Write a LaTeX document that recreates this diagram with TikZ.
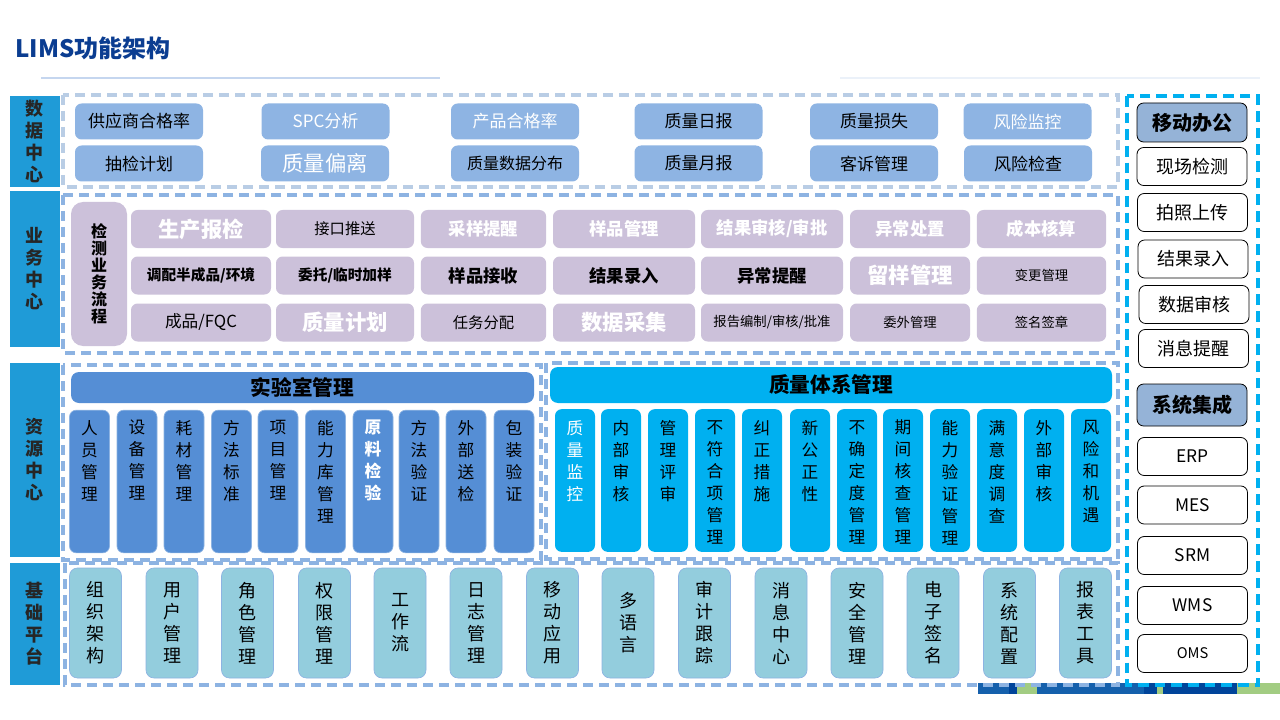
\documentclass[tikz,border=0pt]{standalone}
\usepackage{fontspec}
\setmainfont{Noto Sans CJK SC}
\usetikzlibrary{positioning}
\definecolor{titleblue}{HTML}{0B3D91}
\definecolor{titleline}{HTML}{C5D6EF}
\definecolor{sidefill}{HTML}{1F9BD7}
\definecolor{datafill}{HTML}{8EB4E3}
\definecolor{bizfill}{HTML}{CCC1DA}
\definecolor{labfill}{HTML}{558ED5}
\definecolor{qualfill}{HTML}{00B0F0}
\definecolor{basefill}{HTML}{93CDDD}
\definecolor{headfill}{HTML}{95B3D7}
\definecolor{dashblue}{HTML}{8DB3E2}
\definecolor{dashlight}{HTML}{B9CDE5}
\definecolor{dashcyan}{HTML}{00B0F0}
\definecolor{barblue}{HTML}{1560AC}
\definecolor{bardark}{HTML}{00449A}
\definecolor{bargreen}{HTML}{A2CC82}
\newcommand{\fs}[2]{\fontsize{#1}{#2}\selectfont}

\tikzset{
  sidelabel/.style={fill=sidefill, minimum width=37.5pt, inner sep=0pt, align=center, text=black!85, font=\bfseries\fs{13.5}{16.5}},
  dashframe/.style={draw=dashblue, line width=2.4pt, dash pattern=on 7.5pt off 4.5pt},
  databox/.style={fill=datafill, rounded corners=5pt, minimum width=96pt, minimum height=27pt, inner sep=0pt},
  bizbox/.style={fill=bizfill, rounded corners=5pt, minimum height=28.5pt, inner sep=0pt},
  colbox/.style={rounded corners=5pt, minimum width=30pt, minimum height=107pt, inner sep=0pt},
  coltext/.style={anchor=north, inner sep=0pt, align=center, font=\fs{12.5}{16.5}},
  basebox/.style={fill=basefill, draw=dashblue, line width=0.5pt, rounded corners=6pt, minimum width=39pt, minimum height=82.5pt, inner sep=0pt, align=center, font=\fs{13.5}{16.5}},
  sidecard/.style={draw=black, line width=0.6pt, fill=white, rounded corners=5pt, minimum width=82.5pt, minimum height=28.5pt, inner sep=0pt, font=\fs{13.5}{16}},
  sidehead/.style={sidecard, fill=headfill, font=\bfseries\fs{15}{17}},
  % text looks
  dk/.style={text=black, font=\fs{12.75}{15}},
  wh/.style={text=white, font=\fs{12.75}{15}},
  whbig/.style={text=white, font=\fs{16}{18}},
  dksm/.style={text=black, font=\fs{12}{14}},
  bwbig/.style={text=white, font=\bfseries\fs{16}{18}},
  bw/.style={text=white, font=\bfseries\fs{13}{15}},
  bkb/.style={text=black, font=\bfseries\fs{13}{15}},
  bkbs/.style={text=black, font=\bfseries\fs{11}{13}},
  bk/.style={text=black, font=\fs{11.5}{13}},
  bkm/.style={text=black, font=\fs{12.5}{14}},
  bks/.style={text=black, font=\fs{10}{12}},
  ct/.style={text=black},
  ctw/.style={text=white},
  ctwb/.style={text=white, font=\bfseries\fs{12.5}{16.5}}
}

\begin{document}
\begin{tikzpicture}[x=0.75pt, y=-0.75pt]
  \fill[white] (0,0) rectangle (1280,720);
  \useasboundingbox (0,0) rectangle (1280,720);

  % title
  \node[anchor=west, inner sep=0pt, text=titleblue, font=\bfseries\fs{18}{20}] (title) at (15,48.5) {LIMS功能架构};
  \draw[titleline, line width=1.2pt] (41,78) -- (440,78);
  \draw[titleline!35, line width=1.2pt] (840,78) -- (1260,78);

  % bar at the bottom right
  \fill[barblue] (978,683) rectangle (1009,694);
  \fill[bardark] (1009,683) rectangle (1017,694);
  \fill[bargreen] (1017,683) rectangle (1037,694);
  \fill[barblue] (1037,683) rectangle (1144,694);
  \fill[bardark] (1144,683) rectangle (1157,694);
  \fill[bargreen] (1157,683) rectangle (1163,694);
  \fill[bardark] (1163,683) rectangle (1237,694);
  \fill[bargreen] (1237,683) rectangle (1280,694);

  % dashed frames
  \draw[dashframe, draw=dashlight] (63,95) rectangle (1118,187);
  \draw[dashframe] (63,195) rectangle (1118,353);
  \draw[dashframe] (63,365) rectangle (541,560);
  \draw[dashframe] (546,363) rectangle (1118,559);
  \draw[dashframe] (65,563) rectangle (1118,685);
  \draw[dashframe, draw=dashcyan, line width=2.7pt, dash pattern=on 8pt off 4.5pt] (1127,96) rectangle (1258,685);

  % side labels
  \node[sidelabel, minimum height=68.25pt] (datac) at (35,141.5) {数\\据\\中\\心};
  \node[sidelabel, minimum height=117pt] (bizc) at (35,269) {业\\务\\中\\心};
  \node[sidelabel, minimum height=145.5pt] (resc) at (35,460) {资\\源\\中\\心};
  \node[sidelabel, minimum height=91.5pt] (basec) at (35,624) {基\\础\\平\\台};

  % data center
  \foreach \x/\y/\s/\t [count=\i] in {139/121.5/dk/供应商合格率, 325.5/121.5/wh/SPC分析, 515/121.5/wh/产品合格率,
      698.5/121.5/dk/质量日报, 874/121.5/dk/质量损失, 1027.5/121.5/wh/风险监控,
      139/163.5/dk/抽检计划, 325/163.5/whbig/质量偏离, 515/163.5/dksm/质量数据分布,
      698.5/163.5/dk/质量月报, 874/163.5/dk/客诉管理, 1028/163.5/dk/风险检查}
    \node[databox, \s] (d\i) at (\x,\y) {\t};

  % business center
  \node[bizbox, rounded corners=9pt, minimum width=42pt, minimum height=108pt, align=center, font=\bfseries\fs{12}{12.75}] (flow) at (99,274) {检\\测\\业\\务\\流\\程};
  \foreach \x/\w/\sa/\ta/\sb/\tb/\sc/\tc [count=\i] in {
      201/105/bwbig/生产报检/bkbs/{调配半成品/环境}/bkm/{成品/FQC},
      345/103.5/bk/接口推送/bkbs/{委托/临时加样}/bwbig/质量计划,
      483.5/94/bw/采样提醒/bkb/样品接收/bk/任务分配,
      624/106.5/bw/样品管理/bkb/结果录入/bwbig/数据采集,
      772/106.5/bw/{结果审核/审批}/bkb/异常提醒/bks/{报告编制/审核/批准},
      910/90/bw/异常处置/bwbig/留样管理/bks/委外管理,
      1041.5/97/bw/成本核算/bks/变更管理/bks/签名签章} {
    \node[bizbox, minimum width=\w pt, \sa] (biz\i-1) at (\x,229) {\ta};
    \node[bizbox, minimum width=\w pt, \sb] (biz\i-2) at (\x,275.5) {\tb};
    \node[bizbox, minimum width=\w pt, \sc] (biz\i-3) at (\x,322.5) {\tc};
  }

  % resource center: lab
  \node[fill=labfill, rounded corners=6pt, minimum width=347.25pt, minimum height=23.25pt, inner sep=0pt, font=\bfseries\fs{15.5}{17}] (labhead) at (302.5,387.5) {实验室管理};
  \foreach \x/\s/\t [count=\i] in {89.5/ct/人\\员\\管\\理, 137/ct/设\\备\\管\\理, 184/ct/耗\\材\\管\\理,
      231.5/ct/方\\法\\标\\准, 278/ct/项\\目\\管\\理, 325.5/ct/能\\力\\库\\管\\理, 373/ctwb/原\\料\\检\\验,
      419/ct/方\\法\\验\\证, 466/ct/外\\部\\送\\检, 514/ct/包\\装\\验\\证} {
    \node[colbox, fill=labfill, draw=dashblue, line width=0.5pt] (lab\i) at (\x,481.5) {};
    \node[coltext, \s] (labt\i) at ([yshift=-7.5pt]lab\i.north) {\t};
  }

  % resource center: quality system
  \node[fill=qualfill, rounded corners=6pt, minimum width=421.5pt, minimum height=27pt, inner sep=0pt, font=\bfseries\fs{15.5}{17}] (qualhead) at (831,385) {质量体系管理};
  \foreach \x/\s/\t [count=\i] in {575/ctw/质\\量\\监\\控, 621/ct/内\\部\\审\\核, 668/ct/管\\理\\评\\审,
      715/ct/不\\符\\合\\项\\管\\理, 762/ct/纠\\正\\措\\施, 810/ct/新\\公\\正\\性,
      857/ct/不\\确\\定\\度\\管\\理, 903/ct/期\\间\\核\\查\\管\\理, 950/ct/能\\力\\验\\证\\管\\理,
      997/ct/满\\意\\度\\调\\查, 1044/ct/外\\部\\审\\核, 1091/ct/风\\险\\和\\机\\遇} {
    \node[colbox, fill=qualfill] (qm\i) at (\x,480.5) {};
    \node[coltext, \s] (qmt\i) at ([yshift=-8.25pt]qm\i.north) {\t};
  }

  % base platform
  \foreach \x/\t [count=\i] in {95.5/组\\织\\架\\构, 172/用\\户\\管\\理, 247.5/角\\色\\管\\理, 324.5/权\\限\\管\\理,
      400/工\\作\\流, 476/日\\志\\管\\理, 552.5/移\\动\\应\\用, 628/多\\语\\言, 704.5/审\\计\\跟\\踪,
      781/消\\息\\中\\心, 857/安\\全\\管\\理, 933/电\\子\\签\\名, 1009.5/系\\统\\配\\置, 1085.5/报\\表\\工\\具}
    \node[basebox] (b\i) at (\x,623) {\t};

  % mobile office and integration
  \node[sidehead, minimum height=29.25pt] (mobile) at (1192,122.5) {移动办公};
  \node[sidecard] (m1) at (1192,166.5) {现场检测};
  \node[sidecard] (m2) at (1192.5,212.5) {拍照上传};
  \node[sidecard] (m3) at (1193,259) {结果录入};
  \node[sidecard] (m4) at (1194,304.5) {数据审核};
  \node[sidecard] (m5) at (1193.5,348.5) {消息提醒};
  \node[sidehead, minimum height=31.5pt] (integ) at (1192,405) {系统集成};
  \node[sidecard, font=\fs{13}{15}] (erp) at (1192.5,456.5) {ERP};
  \node[sidecard, font=\fs{13}{15}] (mes) at (1192.5,505) {MES};
  \node[sidecard, font=\fs{13}{15}] (srm) at (1192.5,555.5) {SRM};
  \node[sidecard, font=\fs{13}{15}] (wms) at (1192.5,605.5) {WMS};
  \node[sidecard, font=\fs{11}{13}] (oms) at (1192.5,653.5) {OMS};
\end{tikzpicture}
\end{document}
